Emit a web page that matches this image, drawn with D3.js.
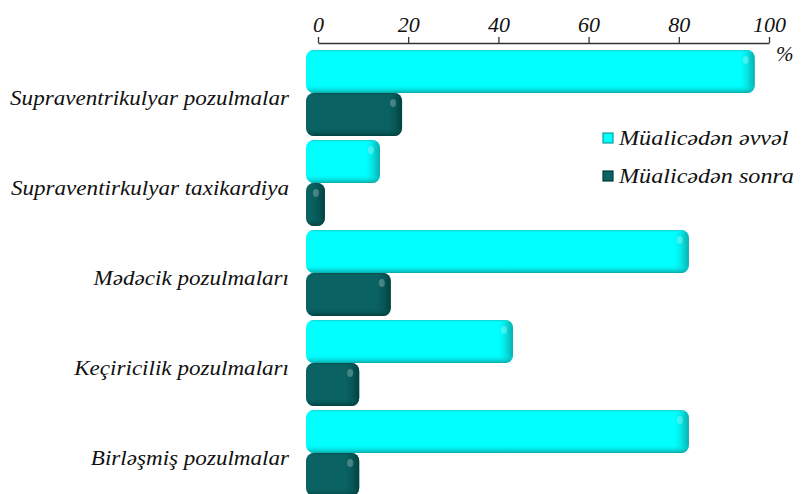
<!DOCTYPE html>
<html>
<head>
<meta charset="utf-8">
<script src="https://cdn.jsdelivr.net/npm/d3@7"></script>
<style>
  body { margin: 0; background: #fff; }
  svg { display: block; }
  text { font-family: "Liberation Serif", "Times New Roman", serif; font-style: italic; fill: #111; }
</style>
</head>
<body>
<script>
var WIDTH = 801, HEIGHT = 494;
var FONT = "'Liberation Serif', 'Times New Roman', serif";

// data
var categories = [
  "Supraventrikulyar pozulmalar",
  "Supraventirkulyar taxikardiya",
  "Mədəcik pozulmaları",
  "Keçiricilik pozulmaları",
  "Birləşmiş pozulmalar"
];
var seriesNames = ["Müalicədən əvvəl", "Müalicədən sonra"];
var before = [99.5, 16.4, 84.9, 45.9, 84.9];
var after = [21.3, 4.2, 18.8, 11.8, 11.8];
var tickValues = [0, 20, 40, 60, 80, 100];

var DEPTH = 12; // 3d offset of the front face

var _svg = d3.select("body").append("svg")
  .attr("width", WIDTH)
  .attr("height", HEIGHT);

var defs = _svg.append("defs");

var palette = [
  { main: "#00ffff", dark: "#0f9a9a", edge: "#22bcbc" },
  { main: "#0a6262", dark: "#013a3a", edge: "#044848" }
];

palette.forEach(function(p, i){
  var gv = defs.append("linearGradient").attr("id", "shadeV" + i)
    .attr("x1", 0).attr("y1", 0).attr("x2", 0).attr("y2", 1);
  gv.append("stop").attr("offset", "0%").attr("stop-color", p.edge).attr("stop-opacity", 0.9);
  gv.append("stop").attr("offset", "6%").attr("stop-color", p.main).attr("stop-opacity", 0);
  gv.append("stop").attr("offset", "80%").attr("stop-color", p.main).attr("stop-opacity", 0);
  gv.append("stop").attr("offset", "100%").attr("stop-color", p.dark).attr("stop-opacity", 0.85);

  var gh = defs.append("linearGradient").attr("id", "shadeH" + i)
    .attr("x1", 0).attr("y1", 0).attr("x2", 1).attr("y2", 0);
  gh.append("stop").attr("offset", "0%").attr("stop-color", p.dark).attr("stop-opacity", 0);
  gh.append("stop").attr("offset", "45%").attr("stop-color", p.dark).attr("stop-opacity", 0.25);
  gh.append("stop").attr("offset", "100%").attr("stop-color", p.dark).attr("stop-opacity", 0.8);
});

var _xScale = d3.scaleLinear().domain([0, 100]).range([318, 769]);
var _yScale = d3.scaleBand().domain(categories).range([50, 496]).paddingInner(0.044).paddingOuter(0);
var _sub = d3.scaleBand().domain([0, 1]).range([0, _yScale.bandwidth()]);

// axis on top
var axis = _svg.append("g")
  .attr("transform", "translate(0,43)")
  .call(d3.axisTop(_xScale).tickValues(tickValues).tickSize(6).tickSizeOuter(0).tickPadding(5));
axis.attr("font-family", null);
axis.select(".domain").attr("stroke", "#333").attr("stroke-width", 1.5);
axis.selectAll(".tick line").attr("stroke", "#333").attr("stroke-width", 1.3);
axis.selectAll(".tick text")
  .style("font-family", FONT)
  .style("font-style", "italic")
  .attr("font-size", 22)
  .attr("fill", "#111");

_svg.append("text")
  .attr("x", 776).attr("y", 61)
  .attr("font-size", 21)
  .text("%");

// bars
var rows = categories.map(function(c, i){ return [before[i], after[i]]; });

var group = _svg.append("g").classed("bars", true)
  .selectAll("g").data(rows).enter().append("g")
  .attr("transform", function(d, i){ return "translate(0," + _yScale(categories[i]) + ")"; });

var bar = group.selectAll(".bar").data(function(d){ return d.map(function(v, s){ return { v: v, s: s }; }); })
  .enter().append("g").classed("bar", true);

var x0 = _xScale(0) - DEPTH;
var bw = function(d){ return Math.max(_xScale(d.v) - _xScale(0), 14); };
var bh = _sub.bandwidth();

bar.append("rect")
  .attr("x", x0).attr("y", function(d){ return _sub(d.s); })
  .attr("width", bw).attr("height", bh)
  .attr("rx", 8).attr("ry", 8)
  .attr("fill", function(d){ return palette[d.s].main; });

bar.append("rect")
  .attr("x", function(d){ return x0 + bw(d) - 14; })
  .attr("y", function(d){ return _sub(d.s); })
  .attr("width", 14).attr("height", bh)
  .attr("rx", 8).attr("ry", 8)
  .attr("fill", function(d){ return "url(#shadeH" + d.s + ")"; });

bar.append("rect")
  .attr("x", x0).attr("y", function(d){ return _sub(d.s); })
  .attr("width", bw).attr("height", bh)
  .attr("rx", 8).attr("ry", 8)
  .attr("fill", function(d){ return "url(#shadeV" + d.s + ")"; });

bar.append("ellipse")
  .attr("cx", function(d){ return x0 + bw(d) - 9; })
  .attr("cy", function(d){ return _sub(d.s) + 10; })
  .attr("rx", 3).attr("ry", 4)
  .attr("fill", "#fff").attr("fill-opacity", 0.25);

// category labels (text in the original is a bit stretched horizontally)
_svg.append("g").selectAll("text").data(categories).enter().append("text")
  .attr("transform", function(d){
    return "translate(289," + (_yScale(d) + _yScale.bandwidth() / 2 + 5) + ") scale(1.1,1)";
  })
  .attr("dy", "0.35em")
  .attr("text-anchor", "end")
  .attr("font-size", 21)
  .text(function(d){ return d; });

// legend
var legend = _svg.append("g").selectAll("g").data(seriesNames).enter().append("g")
  .attr("transform", function(d, i){ return "translate(603," + (133 + i * 38) + ")"; });
legend.append("rect").attr("width", 10).attr("height", 10)
  .attr("fill", function(d, i){ return palette[i].main; })
  .attr("stroke", function(d, i){ return palette[i].dark; }).attr("stroke-width", 1.2);
legend.append("text")
  .attr("transform", "translate(16,5) scale(1.15,1)")
  .attr("dy", "0.35em")
  .attr("font-size", 21)
  .text(function(d){ return d; });
</script>
</body>
</html>
